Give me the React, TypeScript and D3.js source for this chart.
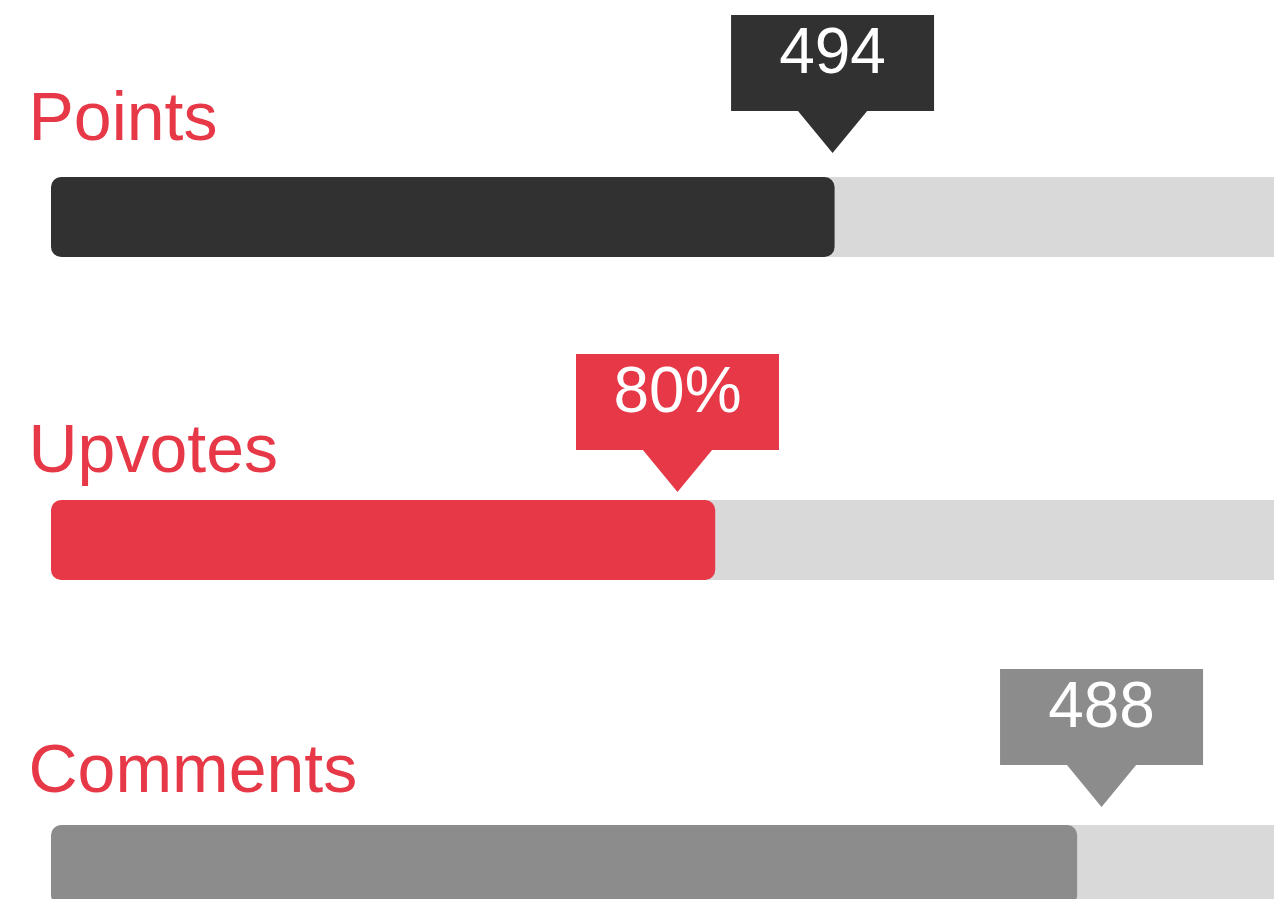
import React from "react";
import * as d3 from "d3";

// ---- data ----
const categories = ["Points", "Upvotes", "Comments"];
const valueLabels = ["494", "80%", "488"];
// share of the track filled by each bar
const barFill = [0.617, 0.523, 0.808];
// position of each value marker along the same track
const markerPos = [0.6154, 0.4933, 0.8272];

// ---- layout / style ----
const W = 1274;
const H = 899;
const barColors = ["#313131", "#e73847", "#8c8c8c"];
const labelColor = "#e73847";
const trackColor = "#d9d9d9";
const labelBaselines = [140, 472, 792];
const barTops = [177, 500, 825];
const tipYs = [153, 492, 807];
const barH = 80;
const boxW = 203;
const boxH = 96;
const triH = 42;
const triHalf = 35;
const font = "'Liberation Sans', Arial, Helvetica, sans-serif";

export default function App() {
  const x = d3.scaleLinear().domain([0, 1]).range([51, 1321]);

  return (
    <svg
      width={W}
      height={H}
      style={{ position: "absolute", left: 0, top: 0, display: "block" }}
      fontFamily={font}
    >
      <rect x={0} y={0} width={W} height={H} fill="#ffffff" />
      {categories.map((cat, i) => {
        const top = barTops[i];
        const x0 = x(0);
        const x1 = x(barFill[i]);
        const mx = x(markerPos[i]);
        const tip = tipYs[i];
        const boxBottom = tip - triH;
        const boxTop = boxBottom - boxH;
        const tri = d3.path();
        tri.moveTo(mx - triHalf, boxBottom - 0.5);
        tri.lineTo(mx + triHalf, boxBottom - 0.5);
        tri.lineTo(mx, tip);
        tri.closePath();
        return (
          <g key={cat}>
            <text
              x={28.5}
              y={labelBaselines[i]}
              fontSize={68}
              fill={labelColor}
            >
              {cat}
            </text>
            <rect
              x={x0 + 12}
              y={top}
              width={x(1) - x0 + 20}
              height={barH}
              fill={trackColor}
            />
            <rect
              x={x0}
              y={top}
              width={x1 - x0}
              height={barH}
              rx={10}
              ry={10}
              fill={barColors[i]}
            />
            <rect
              x={mx - boxW / 2}
              y={boxTop}
              width={boxW}
              height={boxH}
              fill={barColors[i]}
            />
            <path d={tri.toString()} fill={barColors[i]} />
            <text
              x={mx}
              y={boxTop + 57.5}
              fontSize={64}
              fill="#ffffff"
              textAnchor="middle"
            >
              {valueLabels[i]}
            </text>
          </g>
        );
      })}
    </svg>
  );
}
